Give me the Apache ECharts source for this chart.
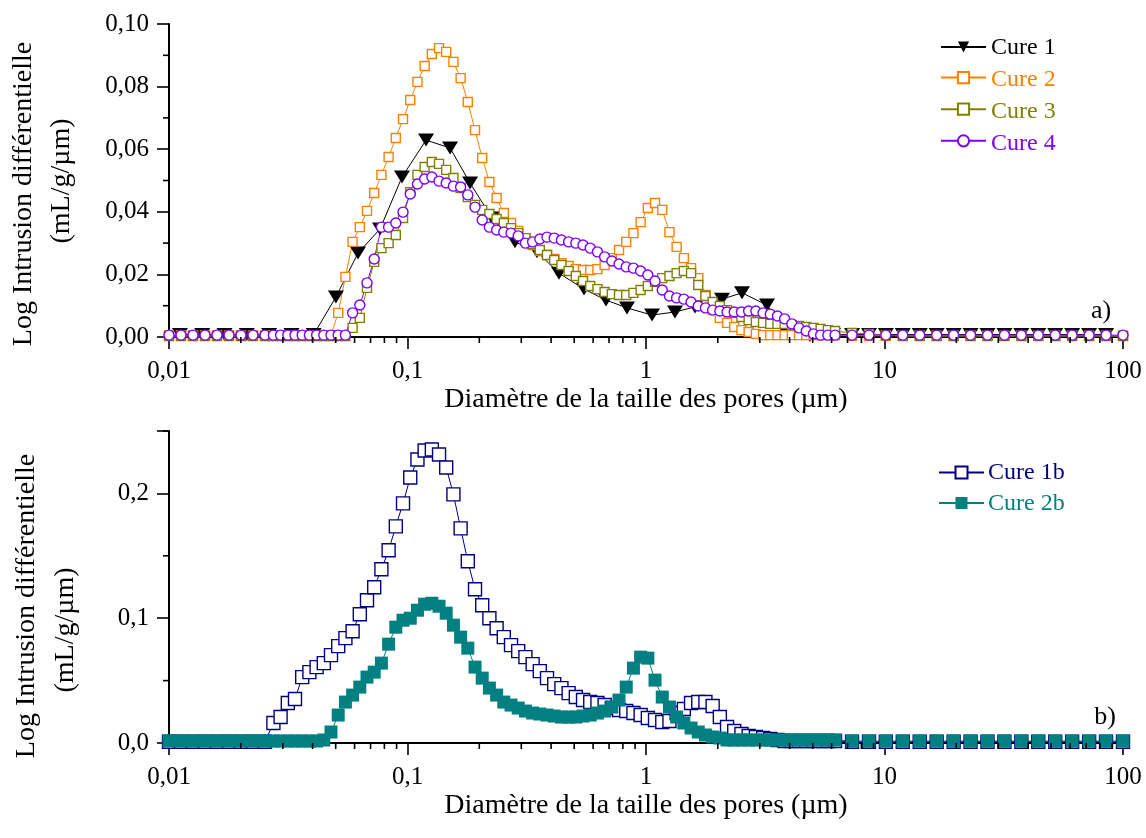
<!DOCTYPE html>
<html><head><meta charset="utf-8">
<script src="https://cdn.jsdelivr.net/npm/echarts@6/dist/echarts.min.js"></script>
<style>html,body{margin:0;padding:0;background:#fff}#c{width:1146px;height:838px}</style>
</head><body><div id="c"></div>
<script>
// Pore diameters (µm) shared by Cure 2, 3, 4, 1b, 2b
const diam = [
  0.01, 0.01123, 0.01261, 0.01416, 0.0159, 0.01785, 0.02004, 0.0225, 0.02527,
  0.0274, 0.02937, 0.03149, 0.03375, 0.03618, 0.03879, 0.04158, 0.04457, 0.04778, 0.05122,
  0.05491, 0.05886, 0.0631, 0.06764, 0.07251, 0.07773, 0.08333, 0.08933, 0.09576, 0.1027,
  0.1101, 0.118, 0.1265, 0.1356, 0.1453, 0.1558, 0.167, 0.179, 0.1919, 0.2057,
  0.2205, 0.2364, 0.2534, 0.2717, 0.2912, 0.3122, 0.3347, 0.3588, 0.3846, 0.4123,
  0.442, 0.4738, 0.5079, 0.5445, 0.5837, 0.6257, 0.6707, 0.719, 0.7708, 0.8263,
  0.8857, 0.9495, 1.018, 1.091, 1.17, 1.254, 1.344, 1.441, 1.545, 1.656,
  1.775, 1.903, 2.04, 2.187, 2.344, 2.513, 2.694, 2.888, 3.096, 3.319,
  3.558, 3.814, 4.088, 4.383, 4.698, 5.036, 5.399, 5.788, 6.204,
  7.31, 8.61, 10.13, 11.93, 14.05, 16.55, 19.49, 22.95, 27.03, 31.83, 37.48, 44.14, 51.98, 61.2, 72.1, 84.9, 100
];
// Cure 1 diameters (µm)
const diamCure1 = [
  0.01111, 0.01378, 0.01709, 0.0212, 0.02629, 0.03261, 0.04044,
  0.0501, 0.062, 0.0767, 0.0948, 0.1196, 0.1508, 0.1829, 0.2261, 0.2823, 0.3491,
  0.4317, 0.5495, 0.6797, 0.8323, 1.06, 1.323, 1.605, 2.083, 2.526, 3.216,
  3.902, 4.87, 6.08,
  7.31, 8.61, 10.13, 11.93, 14.05, 16.55, 19.49, 22.95, 27.03, 31.83, 37.48, 44.14, 51.98, 61.2, 72.1, 84.9
];
const cure1 = [
  0.0008, 0.0008, 0.0008, 0.0008, 0.0008, 0.0008, 0.0008,
  0.0128, 0.0268, 0.0345, 0.0511, 0.0629, 0.0604, 0.0492, 0.0380, 0.0304, 0.0272,
  0.0204, 0.0153, 0.0118, 0.0093, 0.0070, 0.0080, 0.0096, 0.0121, 0.0141, 0.0102,
  0.0010, 0.0005, 0.0008,
  0.0008, 0.0008, 0.0008, 0.0008, 0.0008, 0.0008, 0.0008, 0.0008, 0.0008, 0.0008, 0.0008, 0.0008, 0.0008, 0.0008, 0.0008, 0.0008
];
const cure2 = [
  0.0005, 0.0005, 0.0005, 0.0005, 0.0005, 0.0005, 0.0005, 0.0005, 0.0005,
  0.0005, 0.0005, 0.0005, 0.0005, 0.0005, 0.0005, 0.0005, 0.0005, 0.0006, 0.0077,
  0.0192, 0.0304, 0.0351, 0.0403, 0.0460, 0.0518, 0.0575, 0.0636, 0.0696, 0.0757,
  0.0815, 0.0866, 0.0904, 0.0923, 0.0911, 0.0879, 0.0827, 0.0751, 0.0661, 0.0572,
  0.0495, 0.0444, 0.0396, 0.0364, 0.0339, 0.0316, 0.0294, 0.0275, 0.0262, 0.0249,
  0.0236, 0.0227, 0.0217, 0.0214, 0.0214, 0.0217, 0.0230, 0.0252, 0.0278, 0.0304,
  0.0332, 0.0367, 0.0412, 0.0428, 0.0406, 0.0335, 0.0288, 0.0252, 0.0220, 0.0188,
  0.0134, 0.0086, 0.0061, 0.0045, 0.0032, 0.0022, 0.0016, 0.0010, 0.0006, 0.0006,
  0.0006, 0.0006, 0.0006, 0.0006, 0.0006, 0.0006, 0.0006, 0.0006, 0.0006,
  0.0004, 0.0004, 0.0004, 0.0004, 0.0004, 0.0004, 0.0004, 0.0004, 0.0004, 0.0004, 0.0004, 0.0004, 0.0004, 0.0004, 0.0004, 0.0004, 0.0004
];
const cure3 = [
  0.0003, 0.0003, 0.0003, 0.0003, 0.0003, 0.0003, 0.0003, 0.0003, 0.0003,
  0.0003, 0.0003, 0.0003, 0.0003, 0.0003, 0.0003, 0.0003, 0.0003, 0.0003, 0.0003,
  0.0003, 0.0029, 0.0061, 0.0157, 0.0240, 0.0284, 0.0300, 0.0326, 0.0380, 0.0463,
  0.0518, 0.0543, 0.0559, 0.0553, 0.0534, 0.0508, 0.0476, 0.0447, 0.0422, 0.0406,
  0.0393, 0.0377, 0.0364, 0.0348, 0.0332, 0.0316, 0.0297, 0.0278, 0.0262, 0.0246,
  0.0230, 0.0211, 0.0195, 0.0179, 0.0163, 0.0153, 0.0144, 0.0137, 0.0134, 0.0134,
  0.0141, 0.0150, 0.0163, 0.0176, 0.0188, 0.0195, 0.0204, 0.0211, 0.0204, 0.0166,
  0.0131, 0.0112, 0.0099, 0.0086, 0.0077, 0.0064, 0.0054, 0.0048, 0.0045, 0.0042,
  0.0042, 0.0042, 0.0038, 0.0035, 0.0032, 0.0029, 0.0026, 0.0022, 0.0019,
  0.0013, 0.0010, 0.0006, 0.0003, 0.0003, 0.0003, 0.0003, 0.0003, 0.0003, 0.0003, 0.0003, 0.0003, 0.0003, 0.0003, 0.0003, 0.0003, 0.0003
];
const cure4 = [
  0.0006, 0.0006, 0.0006, 0.0006, 0.0006, 0.0006, 0.0006, 0.0006, 0.0006,
  0.0006, 0.0006, 0.0006, 0.0006, 0.0006, 0.0006, 0.0006, 0.0006, 0.0006, 0.0006,
  0.0006, 0.0077, 0.0102, 0.0173, 0.0249, 0.0351, 0.0351, 0.0364, 0.0399, 0.0457,
  0.0489, 0.0505, 0.0511, 0.0498, 0.0492, 0.0482, 0.0479, 0.0454, 0.0415, 0.0374,
  0.0351, 0.0342, 0.0335, 0.0332, 0.0323, 0.0300, 0.0304, 0.0313, 0.0319, 0.0316,
  0.0310, 0.0304, 0.0300, 0.0294, 0.0284, 0.0272, 0.0256, 0.0243, 0.0233, 0.0224,
  0.0220, 0.0211, 0.0198, 0.0179, 0.0150, 0.0131, 0.0125, 0.0121, 0.0112, 0.0099,
  0.0093, 0.0086, 0.0083, 0.0080, 0.0080, 0.0080, 0.0083, 0.0083, 0.0077, 0.0073,
  0.0067, 0.0058, 0.0042, 0.0029, 0.0019, 0.0010, 0.0006, 0.0006, 0.0006,
  0.0006, 0.0006, 0.0006, 0.0006, 0.0006, 0.0006, 0.0006, 0.0006, 0.0006, 0.0006, 0.0006, 0.0006, 0.0006, 0.0006, 0.0006, 0.0006, 0.0006
];
const cure1b = [
  0.0010, 0.0010, 0.0010, 0.0010, 0.0010, 0.0010, 0.0010, 0.0010, 0.0010,
  0.0160, 0.0208, 0.0320, 0.0352, 0.0528, 0.0568, 0.0608, 0.0640, 0.0704, 0.0776,
  0.0840, 0.0896, 0.1032, 0.1144, 0.1248, 0.1392, 0.1544, 0.1736, 0.1920, 0.2128,
  0.2272, 0.2344, 0.2352, 0.2312, 0.2208, 0.1992, 0.1720, 0.1456, 0.1232, 0.1104,
  0.1000, 0.0920, 0.0848, 0.0784, 0.0736, 0.0688, 0.0632, 0.0576, 0.0520, 0.0472,
  0.0440, 0.0400, 0.0368, 0.0344, 0.0328, 0.0320, 0.0304, 0.0280, 0.0264, 0.0256,
  0.0240, 0.0224, 0.0200, 0.0184, 0.0168, 0.0176, 0.0240, 0.0272, 0.0320, 0.0328,
  0.0328, 0.0296, 0.0208, 0.0128, 0.0096, 0.0072, 0.0056, 0.0048, 0.0040, 0.0032,
  0.0024, 0.0016, 0.0016, 0.0016, 0.0016, 0.0016, 0.0016, 0.0016, 0.0016,
  0.0010, 0.0010, 0.0010, 0.0010, 0.0010, 0.0010, 0.0010, 0.0010, 0.0010, 0.0010, 0.0010, 0.0010, 0.0010, 0.0010, 0.0010, 0.0010, 0.0010
];
const cure2b = [
  0.0018, 0.0018, 0.0018, 0.0018, 0.0018, 0.0018, 0.0018, 0.0018, 0.0018,
  0.0016, 0.0016, 0.0016, 0.0016, 0.0016, 0.0016, 0.0016, 0.0024, 0.0088, 0.0224,
  0.0328, 0.0384, 0.0448, 0.0528, 0.0568, 0.0640, 0.0792, 0.0928, 0.0984, 0.1000,
  0.1064, 0.1112, 0.1120, 0.1096, 0.1040, 0.0944, 0.0848, 0.0760, 0.0608, 0.0520,
  0.0440, 0.0384, 0.0328, 0.0304, 0.0280, 0.0256, 0.0240, 0.0232, 0.0224, 0.0216,
  0.0208, 0.0208, 0.0208, 0.0216, 0.0224, 0.0240, 0.0256, 0.0288, 0.0344, 0.0448,
  0.0600, 0.0688, 0.0680, 0.0504, 0.0368, 0.0288, 0.0208, 0.0160, 0.0120, 0.0088,
  0.0064, 0.0048, 0.0040, 0.0024, 0.0024, 0.0024, 0.0024, 0.0024, 0.0024, 0.0024,
  0.0024, 0.0024, 0.0024, 0.0024, 0.0024, 0.0024, 0.0024, 0.0024, 0.0024,
  0.0016, 0.0016, 0.0016, 0.0016, 0.0016, 0.0016, 0.0016, 0.0016, 0.0016, 0.0016, 0.0016, 0.0016, 0.0016, 0.0016, 0.0016, 0.0016, 0.0016
];

const xTickLabels = {0.01: '0,01', 0.1: '0,1', 1: '1', 10: '10', 100: '100'};
const xMinorTicks = [0.02,0.03,0.04,0.05,0.06,0.07,0.08,0.09, 0.2,0.3,0.4,0.5,0.6,0.7,0.8,0.9,
  2,3,4,5,6,7,8,9, 20,30,40,50,60,70,80,90];
const yMinorTop = [0.01, 0.03, 0.05, 0.07, 0.09];
const yMinorBottom = [0.05, 0.15, 0.25];
const legendTop = ['Cure 1', 'Cure 2', 'Cure 3', 'Cure 4'];
const legendBottom = ['Cure 1b', 'Cure 2b'];

const FONT = '"Liberation Serif","Times New Roman",serif';
const C = {'Cure 1':'#000000', 'Cure 2':'#ff8000', 'Cure 3':'#808000', 'Cure 4':'#8000ff', 'Cure 1b':'#000080', 'Cure 2b':'#008080'};

function zip(xs, ys) { const n = Math.min(xs.length, ys.length); const o = []; for (let i = 0; i < n; i++) o.push([xs[i], ys[i]]); return o; }

function xAxisCfg(gi) {
  return {
    type: 'log', logBase: 10, min: 0.01, max: 100, gridIndex: gi,
    axisLine: {onZero: false, lineStyle: {color: '#000', width: 2}},
    axisTick: {length: 12, lineStyle: {color: '#000', width: 1.6}},
    splitLine: {show: false},
    axisLabel: {fontFamily: FONT, fontSize: 25, color: '#000', margin: 22,
      formatter: v => xTickLabels[Number(Number(v).toPrecision(6))] || ''}
  };
}

function tickSeries(xi, yi, pts, dir) {
  return {
    type: 'custom', xAxisIndex: xi, yAxisIndex: yi, silent: true, clip: false, z: 5,
    data: pts,
    renderItem: (params, api) => {
      const p = api.coord([api.value(0), api.value(1)]);
      const len = 6;
      const shape = dir === 'x' ? {x1: p[0], y1: p[1], x2: p[0], y2: p[1] + len}
                                : {x1: p[0] - len, y1: p[1], x2: p[0], y2: p[1]};
      return {type: 'line', shape, style: {stroke: '#000', lineWidth: 1.6}};
    }
  };
}

function lineSeries(name, xi, data, symbol, size, filled, rot) {
  const color = C[name];
  return {
    name, type: 'line', xAxisIndex: xi, yAxisIndex: xi, data,
    symbol, symbolSize: size, symbolRotate: rot || 0, showAllSymbol: true,
    lineStyle: {color, width: 1},
    itemStyle: {color: filled ? color : '#fff', borderColor: color, borderWidth: filled ? 0 : 1.4},
    emphasis: {disabled: true}, z: 3
  };
}

function legendLabels(names, x, y0, step) {
  return names.map((n, i) => ({type: 'text', x, y: y0 + i * step,
    style: {text: n, font: '24px ' + FONT, fill: C[n], align: 'left', verticalAlign: 'middle'}}));
}

const TFONT = '28px ' + FONT;
const chart = echarts.init(document.getElementById('c'), null, {renderer: 'canvas'});
chart.setOption({
  animation: false,
  backgroundColor: '#fff',
  grid: [
    {left: 169, right: 23, top: 24, bottom: 501},
    {left: 169, right: 23, top: 431, bottom: 95}
  ],
  xAxis: [xAxisCfg(0), xAxisCfg(1)],
  yAxis: [
    {type: 'value', gridIndex: 0, min: 0, max: 0.1, interval: 0.02,
     axisLine: {show: true, lineStyle: {color: '#000', width: 2}},
     axisTick: {show: true, length: 12, lineStyle: {color: '#000', width: 1.6}},
     splitLine: {show: false},
     axisLabel: {fontFamily: FONT, fontSize: 25, color: '#000', margin: 20,
       formatter: v => v.toFixed(2).replace('.', ',')}},
    {type: 'value', gridIndex: 1, min: 0, max: 0.25, interval: 0.1,
     axisLine: {show: true, lineStyle: {color: '#000', width: 2}},
     axisTick: {show: true, length: 12, lineStyle: {color: '#000', width: 1.6}},
     splitLine: {show: false},
     axisLabel: {fontFamily: FONT, fontSize: 25, color: '#000', margin: 20,
       formatter: v => (Math.abs(v * 10 - Math.round(v * 10)) < 1e-6 ? v.toFixed(1).replace('.', ',') : '')}}
  ],
  legend: [
    {orient: 'vertical', left: 940, top: 40, padding: 0, itemWidth: 45, itemHeight: 14, itemGap: 18,
     formatter: () => '', selectedMode: false, data: legendTop},
    {orient: 'vertical', left: 938, top: 465, padding: 0, itemWidth: 45, itemHeight: 15, itemGap: 16,
     formatter: () => '', selectedMode: false, data: legendBottom}
  ],
  graphic: [
    {type: 'text', x: 646, y: 400, style: {text: 'Diamètre de la taille des pores (µm)', font: TFONT, fill: '#000', align: 'center', verticalAlign: 'middle'}},
    {type: 'text', x: 646, y: 806, style: {text: 'Diamètre de la taille des pores (µm)', font: TFONT, fill: '#000', align: 'center', verticalAlign: 'middle'}},
    {type: 'text', x: 24, y: 194, rotation: Math.PI / 2, style: {text: 'Log Intrusion différentielle', font: TFONT, fill: '#000', align: 'center', verticalAlign: 'middle'}},
    {type: 'text', x: 62, y: 181, rotation: Math.PI / 2, style: {text: '(mL/g/µm)', font: TFONT, fill: '#000', align: 'center', verticalAlign: 'middle'}},
    {type: 'text', x: 27, y: 606, rotation: Math.PI / 2, style: {text: 'Log Intrusion différentielle', font: TFONT, fill: '#000', align: 'center', verticalAlign: 'middle'}},
    {type: 'text', x: 66, y: 630, rotation: Math.PI / 2, style: {text: '(mL/g/µm)', font: TFONT, fill: '#000', align: 'center', verticalAlign: 'middle'}},
    {type: 'text', x: 1101, y: 311, style: {text: 'a)', font: '26px ' + FONT, fill: '#000', align: 'center', verticalAlign: 'middle'}},
    {type: 'text', x: 1105, y: 717, style: {text: 'b)', font: '26px ' + FONT, fill: '#000', align: 'center', verticalAlign: 'middle'}}
  ].concat(legendLabels(legendTop, 991, 48, 32), legendLabels(legendBottom, 988, 473, 31)),
  series: [
    lineSeries('Cure 1', 0, zip(diamCure1, cure1), 'triangle', [16, 13], true, 180),
    lineSeries('Cure 2', 0, zip(diam, cure2), 'rect', 9, false),
    lineSeries('Cure 3', 0, zip(diam, cure3), 'rect', 9, false),
    lineSeries('Cure 4', 0, zip(diam, cure4), 'circle', 10, false),
    lineSeries('Cure 1b', 1, zip(diam, cure1b), 'rect', 13, false),
    lineSeries('Cure 2b', 1, zip(diam, cure2b), 'rect', 13, true),
    tickSeries(0, 0, xMinorTicks.map(v => [v, 0]), 'x'),
    tickSeries(1, 1, xMinorTicks.map(v => [v, 0]), 'x'),
    tickSeries(0, 0, yMinorTop.map(v => [0.01, v]), 'y'),
    tickSeries(1, 1, yMinorBottom.map(v => [0.01, v]), 'y')
  ]
});
</script>
</body></html>
